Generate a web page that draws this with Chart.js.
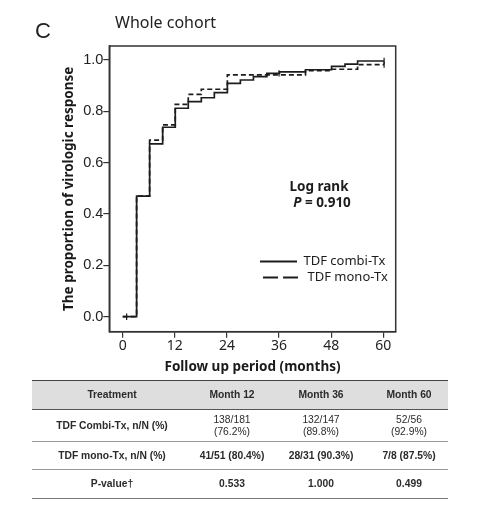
<!DOCTYPE html>
<html>
<head>
<meta charset="utf-8">
<script src="https://cdn.jsdelivr.net/npm/chart.js@4.4.1/dist/chart.umd.min.js"></script>
<style>
  html, body { margin: 0; padding: 0; background: #fff; }
  #wrap { position: relative; width: 488px; height: 515px; overflow: hidden; }
  #chart { position: absolute; left: 0; top: 0; }
  #tbl {
    position: absolute; left: 32px; top: 380px; width: 416px;
    border-collapse: collapse; table-layout: fixed;
    font-family: "Liberation Sans", Arial, sans-serif; font-size: 10.3px; color: #2b2b2b;
  }
  #tbl td, #tbl th { padding: 0; text-align: center; vertical-align: middle; line-height: 11.5px; }
  #tbl thead th { background: #dedede; height: 28px; font-weight: bold; border-top: 1.5px solid #444; border-bottom: 1px solid #555; }
  #tbl tbody td { border-bottom: 1px solid #999; }
  #tbl tbody tr:last-child td { border-bottom: 1.5px solid #777; }
  #tbl .lab { font-weight: bold; }
  #tbl .b { font-weight: bold; }
</style>
</head>
<body>
<div id="wrap">
  <canvas id="chart" width="488" height="515"></canvas>
  <table id="tbl">
    <colgroup><col style="width:160px"><col style="width:80px"><col style="width:98px"><col style="width:78px"></colgroup>
    <thead><tr id="head"></tr></thead>
    <tbody id="body"></tbody>
  </table>
</div>
<script>
// curve data (months, cumulative proportion)
const combiTimes  = [0, 3.2, 6.2, 9.2, 12.1, 15.1, 18.1, 21.1, 24.1, 27.1, 30.1, 33.2, 36.1, 42.1, 48.1, 51.2, 54.1, 60.2];
const combiValues = [0, 0.47, 0.673, 0.738, 0.812, 0.838, 0.853, 0.873, 0.909, 0.922, 0.935, 0.948, 0.954, 0.962, 0.975, 0.984, 0.996, 0.996];
const monoTimes   = [0, 3.2, 6.2, 9.2, 12.1, 15.1, 18.1, 24.1, 42.1, 48.1, 54.1, 60.2];
const monoValues  = [0, 0.47, 0.688, 0.747, 0.827, 0.866, 0.886, 0.942, 0.958, 0.964, 0.982, 0.982];
const combiCensored = [0.9, 36, 60.2];
const monoCensored  = [60.2];

const xTicks = [0, 12, 24, 36, 48, 60];
const yTicks = [0, 0.2, 0.4, 0.6, 0.8, 1.0];
const seriesLabels = ['TDF combi-Tx', 'TDF mono-Tx'];

const panelLabel = 'C';
const chartTitle = 'Whole cohort';
const xTitle = 'Follow up period (months)';
const yTitle = 'The proportion of virologic response';
const testName = 'Log rank';
const pValue = '0.910';

// table under the plot
const tableHeader = ['Treatment', 'Month 12', 'Month 36', 'Month 60'];
const combiRow = ['TDF Combi-Tx, n/N (%)', '138/181<br>(76.2%)', '132/147<br>(89.8%)', '52/56<br>(92.9%)'];
const monoRow  = ['TDF mono-Tx, n/N (%)', '41/51 (80.4%)', '28/31 (90.3%)', '7/8 (87.5%)'];
const pRow     = ['P-value\u2020', '0.533', '1.000', '0.499'];

document.getElementById('head').innerHTML = tableHeader.map(h => `<th>${h}</th>`).join('');
const rowHeights = [32, 28, 29];
document.getElementById('body').innerHTML = [combiRow, monoRow, pRow].map((r, i) =>
  `<tr style="height:${rowHeights[i]}px">` + r.map((c, j) =>
    `<td class="${j === 0 ? 'lab' : (i > 0 ? 'b' : '')}">${c}</td>`).join('') + '</tr>'
).join('');

function pts(times, values) {
  return times.map((t, i) => ({ x: t, y: values[i] }));
}
function valueAt(times, values, t) {
  let v = values[0];
  times.forEach((tt, i) => { if (tt <= t) v = values[i]; });
  return v;
}

const ink = '#1c1c1c';

const framePlugin = {
  id: 'frame',
  afterDraw(chart) {
    const { ctx, chartArea: a } = chart;
    ctx.save();
    ctx.strokeStyle = '#333';
    ctx.lineWidth = 1.5;
    ctx.strokeRect(a.left, a.top, a.right - a.left, a.bottom - a.top);

    ctx.fillStyle = '#222';
    ctx.textBaseline = 'middle';
    ctx.textAlign = 'left';
    ctx.font = '22px "Liberation Sans", Arial, sans-serif';
    ctx.fillText(panelLabel, 35, 31.5);
    ctx.font = '16px "Noto Sans", sans-serif';
    ctx.fillText(chartTitle, 115, 23.5);

    // log rank annotation
    ctx.fillStyle = ink;
    ctx.textAlign = 'center';
    ctx.font = 'bold 13.5px "Noto Sans", sans-serif';
    ctx.fillText(testName, 319, 187.5);
    ctx.textAlign = 'left';
    ctx.font = 'italic bold 13.5px "Noto Sans", sans-serif';
    const wP = ctx.measureText('P').width;
    ctx.font = 'bold 13.5px "Noto Sans", sans-serif';
    const rest = ' = ' + pValue;
    const wR = ctx.measureText(rest).width;
    const x0 = 322 - (wP + wR) / 2;
    ctx.font = 'italic bold 13.5px "Noto Sans", sans-serif';
    ctx.fillText('P', x0, 203);
    ctx.font = 'bold 13.5px "Noto Sans", sans-serif';
    ctx.fillText(rest, x0 + wP, 203);

    // legend
    const ds = chart.data.datasets;
    ctx.lineWidth = 1.8;
    ctx.strokeStyle = ink;
    ctx.beginPath();
    ctx.setLineDash([]);
    ctx.moveTo(260, 261.5); ctx.lineTo(297, 261.5);
    ctx.stroke();
    ctx.beginPath();
    ctx.setLineDash([15, 5]);
    ctx.moveTo(263, 277.5); ctx.lineTo(303, 277.5);
    ctx.stroke();
    ctx.setLineDash([]);
    ctx.font = '13px "Noto Sans", sans-serif';
    ctx.fillText(ds[0].label, 303.5, 261.5);
    ctx.fillText(ds[1].label, 307.5, 277.5);
    ctx.restore();
  }
};

new Chart(document.getElementById('chart'), {
  type: 'line',
  plugins: [framePlugin],
  data: {
    datasets: [
      {
        label: seriesLabels[0],
        data: pts(combiTimes, combiValues),
        stepped: true,
        borderColor: ink,
        borderWidth: 1.7,
        pointRadius: 0,
        fill: false
      },
      {
        label: seriesLabels[1],
        data: pts(monoTimes, monoValues),
        stepped: true,
        borderColor: ink,
        borderWidth: 1.7,
        borderDash: [5, 3],
        pointRadius: 0,
        fill: false
      },
      {
        label: 'censored',
        data: combiCensored.map(t => ({ x: t, y: valueAt(combiTimes, combiValues, t) }))
          .concat(monoCensored.map(t => ({ x: t, y: valueAt(monoTimes, monoValues, t) }))),
        showLine: false,
        pointStyle: 'line',
        rotation: 90,
        pointRadius: 3.2,
        pointBorderColor: ink,
        pointBorderWidth: 1.2
      }
    ]
  },
  options: {
    responsive: false,
    animation: false,
    layout: { padding: { left: 0, top: 46, right: 92.3, bottom: 139.9 } },
    plugins: {
      legend: { display: false },
      tooltip: { enabled: false }
    },
    scales: {
      x: {
        type: 'linear',
        min: -3.09,
        max: 62.87,
        afterBuildTicks: axis => { axis.ticks = xTicks.map(v => ({ value: v })); },
        afterFit: scale => { scale.height = 43.4; },
        grid: { drawOnChartArea: false, drawTicks: true, tickLength: 6, color: '#333', lineWidth: 1.2 },
        border: { display: true, color: '#333', width: 1.5 },
        ticks: { color: '#222', padding: 0, maxRotation: 0, font: { family: '"Noto Sans", sans-serif', size: 14 } },
        title: {
          display: true, text: xTitle, color: '#1a1a1a', padding: { top: 0, bottom: 0 },
          font: { family: '"Noto Sans", sans-serif', size: 13.5, weight: 'bold' }
        }
      },
      y: {
        type: 'linear',
        min: -0.0584,
        max: 1.0545,
        afterBuildTicks: axis => { axis.ticks = yTicks.map(v => ({ value: v })); },
        afterFit: scale => { scale.width = 109.3; },
        grid: { drawOnChartArea: false, drawTicks: true, tickLength: 6, color: '#333', lineWidth: 1.2 },
        border: { display: true, color: '#333', width: 1.5 },
        ticks: {
          color: '#222', padding: 0,
          font: { family: '"Liberation Sans", Arial, sans-serif', size: 14.5 },
          callback: v => v.toFixed(1)
        },
        title: {
          display: true, text: yTitle, color: '#1a1a1a', padding: { top: 61, bottom: 0 },
          font: { family: '"Noto Sans", sans-serif', size: 13.5, weight: 'bold' }
        }
      }
    }
  }
});
</script>
</body>
</html>
